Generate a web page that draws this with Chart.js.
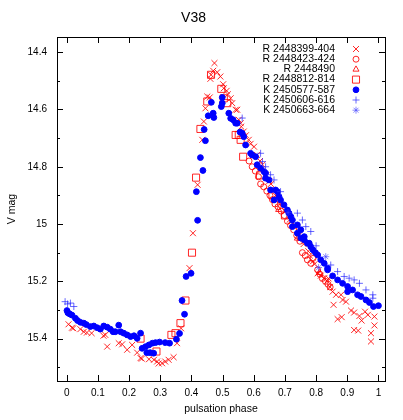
<!DOCTYPE html>
<html>
<head>
<meta charset="utf-8">
<script src="https://cdn.jsdelivr.net/npm/chart.js@4"></script>
<style>
  body { margin: 0; background: #fff; }
</style>
</head>
<body>
<canvas id="lightCurve" width="403" height="420"></canvas>
<script>

// ticks as in the original plot
const xTicks = [0, 0.1, 0.2, 0.3, 0.4, 0.5, 0.6, 0.7, 0.8, 0.9, 1];
const yTicks = [14.4, 14.6, 14.8, 15, 15.2, 15.4];
const yMinorTicks = [14.5, 14.7, 14.9, 15.1, 15.3, 15.5];

const seriesNames = ['R 2448399-404', 'R 2448423-424', 'R 2448490', 'R 2448812-814',
                     'K 2450577-587', 'K 2450606-616', 'K 2450663-664'];

// [phase, V mag]
const r399 = [
  [0.006, 15.35], [0.017, 15.362], [0.021, 15.364], [0.044, 15.367], [0.055, 15.376], [0.065, 15.379],
  [0.08, 15.381], [0.118, 15.39], [0.124, 15.387], [0.13, 15.428], [0.167, 15.416], [0.178, 15.42],
  [0.194, 15.439], [0.21, 15.422], [0.226, 15.449], [0.237, 15.468], [0.241, 15.47], [0.264, 15.472],
  [0.28, 15.474], [0.29, 15.48], [0.295, 15.487], [0.306, 15.486], [0.316, 15.48], [0.327, 15.474],
  [0.343, 15.465], [0.354, 15.416], [0.367, 15.364], [0.394, 15.154], [0.405, 15.032], [0.42, 14.863],
  [0.435, 14.706], [0.44, 14.642], [0.445, 14.596], [0.451, 14.555], [0.459, 14.558], [0.461, 14.493],
  [0.463, 14.479], [0.47, 14.465], [0.474, 14.438], [0.483, 14.47], [0.493, 14.485], [0.502, 14.512],
  [0.504, 14.526], [0.513, 14.535], [0.517, 14.547], [0.526, 14.561], [0.531, 14.578], [0.542, 14.601],
  [0.547, 14.601], [0.552, 14.636], [0.558, 14.648], [0.56, 14.66], [0.568, 14.677], [0.575, 14.69],
  [0.584, 14.706], [0.59, 14.72], [0.601, 14.73], [0.611, 14.759], [0.62, 14.78], [0.628, 14.793],
  [0.64, 14.83], [0.65, 14.85], [0.655, 14.86], [0.67, 14.9], [0.68, 14.91], [0.685, 14.93],
  [0.7, 14.955], [0.715, 14.985], [0.72, 14.99], [0.73, 15.01], [0.745, 15.04], [0.75, 15.05],
  [0.76, 15.07], [0.775, 15.095], [0.78, 15.11], [0.79, 15.13], [0.795, 15.14], [0.805, 15.172],
  [0.815, 15.18], [0.826, 15.189], [0.835, 15.2], [0.84, 15.19], [0.845, 15.22], [0.853, 15.236],
  [0.856, 15.282], [0.864, 15.247], [0.869, 15.332], [0.88, 15.247], [0.882, 15.325], [0.885, 15.265],
  [0.896, 15.271], [0.912, 15.302], [0.922, 15.309], [0.922, 15.37], [0.935, 15.372], [0.939, 15.321],
  [0.946, 15.337], [0.957, 15.306], [0.966, 15.317], [0.976, 15.381], [0.976, 15.41], [0.987, 15.323],
  [0.987, 15.354]
];
const r423 = [
  [0.585, 14.78], [0.595, 14.8], [0.605, 14.815], [0.615, 14.835], [0.622, 14.86], [0.632, 14.87],
  [0.642, 14.885], [0.652, 14.9], [0.66, 14.915], [0.668, 14.93], [0.678, 14.94], [0.688, 14.955],
  [0.698, 14.97], [0.708, 14.99], [0.718, 15.005], [0.728, 15.02], [0.738, 15.04], [0.748, 15.06],
  [0.756, 15.1], [0.765, 15.11], [0.772, 15.125], [0.783, 15.137], [0.79, 15.12], [0.805, 15.16],
  [0.812, 15.175], [0.82, 15.19], [0.83, 15.2], [0.838, 15.21], [0.845, 15.22]
];
const r490 = [
  [0.68, 14.95], [0.74, 15.05], [0.81, 15.17]
];
const r812 = [
  [0.237, 15.4], [0.288, 15.445], [0.336, 15.387], [0.349, 15.381], [0.365, 15.346], [0.381, 15.267],
  [0.402, 15.1], [0.415, 14.838], [0.429, 14.668], [0.451, 14.572], [0.463, 14.479], [0.496, 14.528],
  [0.504, 14.561], [0.515, 14.578], [0.542, 14.689], [0.552, 14.689], [0.558, 14.706], [0.566, 14.765],
  [0.62, 14.83], [0.66, 14.9], [0.7, 14.97]
];
const k577 = [
  [0.001, 15.302], [0.004, 15.31], [0.01, 15.314], [0.017, 15.318], [0.028, 15.329], [0.035, 15.337],
  [0.044, 15.343], [0.055, 15.346], [0.063, 15.351], [0.076, 15.358], [0.087, 15.356], [0.098, 15.362],
  [0.108, 15.367], [0.119, 15.356], [0.13, 15.36], [0.14, 15.367], [0.149, 15.376], [0.156, 15.376],
  [0.167, 15.353], [0.173, 15.376], [0.183, 15.381], [0.194, 15.387], [0.205, 15.393], [0.216, 15.39],
  [0.226, 15.399], [0.237, 15.381], [0.242, 15.434], [0.253, 15.428], [0.264, 15.422], [0.275, 15.416],
  [0.285, 15.414], [0.298, 15.412], [0.316, 15.414], [0.33, 15.416], [0.257, 15.449], [0.268, 15.449],
  [0.279, 15.451], [0.352, 15.402], [0.362, 15.382], [0.378, 15.315], [0.37, 15.267], [0.383, 15.183],
  [0.399, 15.172], [0.42, 14.987], [0.416, 14.887], [0.437, 14.813], [0.429, 14.768], [0.445, 14.709],
  [0.441, 14.67], [0.454, 14.622], [0.47, 14.613], [0.472, 14.628], [0.464, 14.575], [0.496, 14.59],
  [0.499, 14.578], [0.499, 14.558], [0.52, 14.613], [0.526, 14.631], [0.534, 14.636], [0.542, 14.648],
  [0.547, 14.648], [0.556, 14.679], [0.563, 14.683], [0.568, 14.695], [0.574, 14.724], [0.59, 14.753],
  [0.595, 14.759], [0.606, 14.765], [0.611, 14.793], [0.622, 14.805], [0.633, 14.817], [0.638, 14.822],
  [0.638, 14.84], [0.649, 14.846], [0.654, 14.881], [0.67, 14.881], [0.676, 14.887], [0.665, 14.916],
  [0.681, 14.904], [0.686, 14.916], [0.697, 14.933], [0.708, 14.951], [0.713, 14.962], [0.719, 14.974],
  [0.724, 14.986], [0.724, 15.009], [0.74, 15.003], [0.751, 15.02], [0.74, 15.032], [0.751, 15.049],
  [0.762, 15.044], [0.762, 15.055], [0.772, 15.067], [0.778, 15.067], [0.783, 15.079], [0.79, 15.09],
  [0.798, 15.1], [0.805, 15.108], [0.815, 15.125], [0.826, 15.137], [0.837, 15.154], [0.837, 15.16],
  [0.853, 15.181], [0.869, 15.195], [0.885, 15.207], [0.901, 15.218], [0.901, 15.236], [0.917, 15.23],
  [0.933, 15.247], [0.944, 15.253], [0.96, 15.265], [0.971, 15.274], [0.984, 15.288], [1.0, 15.285]
];
const k606 = [
  [-0.005, 15.271], [0.003, 15.279], [0.012, 15.276], [0.023, 15.288], [0.563, 14.63], [0.622, 14.753],
  [0.628, 14.782], [0.638, 14.8], [0.654, 14.828], [0.665, 14.846], [0.686, 14.887], [0.74, 14.962],
  [0.756, 14.986], [0.767, 15.009], [0.783, 15.026], [0.8, 15.076], [0.847, 15.143], [0.869, 15.166],
  [0.89, 15.183], [0.906, 15.189], [0.922, 15.195], [0.939, 15.207], [0.96, 15.23], [0.982, 15.247],
  [0.982, 15.259]
];
const k663 = [
  [0.71, 14.96], [0.808, 15.152], [0.831, 15.114]
];


/**
 * makeSet: builds one scatter dataset
 */
function makeSet(i, rows, style, radius, color, fill) {
  return {
    label: seriesNames[i],
    data: rows.map(r => ({ x: r[0], y: r[1] })),
    pointStyle: style,
    pointRadius: radius,
    borderColor: color,
    backgroundColor: fill,
    borderWidth: 1,
    order: 10 - i
  };
}

/**
 * frameTicks: gnuplot style box with inward ticks
 */
const frameTicks = {
  id: 'frameTicks',
  afterDraw(chart) {
    const { ctx, chartArea: a, scales } = chart;
    ctx.save();
    ctx.strokeStyle = '#000';
    ctx.lineWidth = 1;
    ctx.strokeRect(a.left + 0.5, a.top + 0.5, a.right - a.left, a.bottom - a.top);
    ctx.beginPath();
    xTicks.forEach(v => {
      const px = Math.round(scales.x.getPixelForValue(v)) + 0.5;
      ctx.moveTo(px, a.bottom); ctx.lineTo(px, a.bottom - 6);
      ctx.moveTo(px, a.top); ctx.lineTo(px, a.top + 6);
    });
    yTicks.concat(yMinorTicks).forEach(v => {
      const len = yTicks.includes(v) ? 6 : 3;
      const py = Math.round(scales.y.getPixelForValue(v)) + 0.5;
      ctx.moveTo(a.left, py); ctx.lineTo(a.left + len, py);
      ctx.moveTo(a.right, py); ctx.lineTo(a.right - len, py);
    });
    ctx.stroke();
    ctx.restore();
  }
};

/**
 * keyBox: legend in the top right corner, text right aligned, symbol after it
 */
const keyBox = {
  id: 'keyBox',
  afterDraw(chart) {
    const ctx = chart.ctx;
    ctx.save();
    ctx.font = '10.5px "Liberation Sans", Arial, sans-serif';
    ctx.textAlign = 'right';
    ctx.textBaseline = 'middle';
    chart.data.datasets.forEach((ds, i) => {
      const y = 49 + i * 10.2;
      ctx.fillStyle = '#000';
      ctx.fillText(ds.label, 335, y);
      ctx.strokeStyle = ds.borderColor;
      ctx.fillStyle = ds.backgroundColor;
      ctx.lineWidth = 1;
      Chart.helpers.drawPoint(ctx, { pointStyle: ds.pointStyle, radius: ds.pointRadius, rotation: 0, borderWidth: 1 }, 356, y);
    });
    ctx.restore();
  }
};

function initChart() {
  const ctx = document.getElementById('lightCurve').getContext('2d');
  const red = 'rgba(255, 0, 0, 0.85)';
  const datasets = [
    makeSet(0, r399, 'crossRot', 4.2, red, red),
    makeSet(1, r423, 'circle', 3, red, 'rgba(0,0,0,0)'),
    makeSet(2, r490, 'triangle', 3.5, red, 'rgba(0,0,0,0)'),
    makeSet(3, r812, 'rect', 5, red, 'rgba(0,0,0,0)'),
    makeSet(4, k577, 'circle', 2.9, '#0000ff', '#0000ff'),
    makeSet(5, k606, 'cross', 3.5, 'rgba(40, 40, 255, 0.7)', 'rgba(40, 40, 255, 0.7)'),
    makeSet(6, k663, 'star', 3.5, 'rgba(60, 60, 255, 0.6)', 'rgba(60, 60, 255, 0.6)')
  ];
  const font = { family: '"Liberation Sans", Arial, sans-serif', size: 10 };

  return new Chart(ctx, {
    type: 'scatter',
    data: { datasets: datasets },
    options: {
      responsive: false,
      animation: false,
      layout: { padding: { left: 2, right: 18, top: 0, bottom: 5 } },
      plugins: {
        legend: { display: false },
        tooltip: { enabled: false },
        title: {
          display: true,
          text: 'V38',
          color: '#000',
          font: { family: font.family, size: 14, weight: 'normal' },
          padding: { top: 10, bottom: 10.2 }
        }
      },
      scales: {
        x: {
          type: 'linear',
          min: -0.031,
          max: 1.021,
          afterBuildTicks: s => { s.ticks = xTicks.map(v => ({ value: v })); },
          afterFit: s => { s.height = 34; },
          grid: { display: false, drawTicks: false, tickLength: 0 },
          border: { display: false },
          ticks: { color: '#000', font: font, padding: 6, maxRotation: 0,
                   callback: v => String(Math.round(v * 10) / 10) },
          title: { display: true, text: 'pulsation phase', color: '#000',
                   font: { family: font.family, size: 10.5 }, padding: 0 }
        },
        y: {
          type: 'linear',
          reverse: true,
          min: 14.347,
          max: 15.548,
          afterBuildTicks: s => { s.ticks = yTicks.map(v => ({ value: v })); },
          afterFit: s => { s.width = 55; },
          grid: { display: false, drawTicks: false, tickLength: 0 },
          border: { display: false },
          ticks: { color: '#000', font: font, padding: 10,
                   callback: v => String(Math.round(v * 10) / 10) },
          title: { display: true, text: 'V mag', color: '#000',
                   font: { family: font.family, size: 10.5 }, padding: 4 }
        }
      }
    },
    plugins: [frameTicks, keyBox]
  });
}

initChart();
</script>
</body>
</html>
